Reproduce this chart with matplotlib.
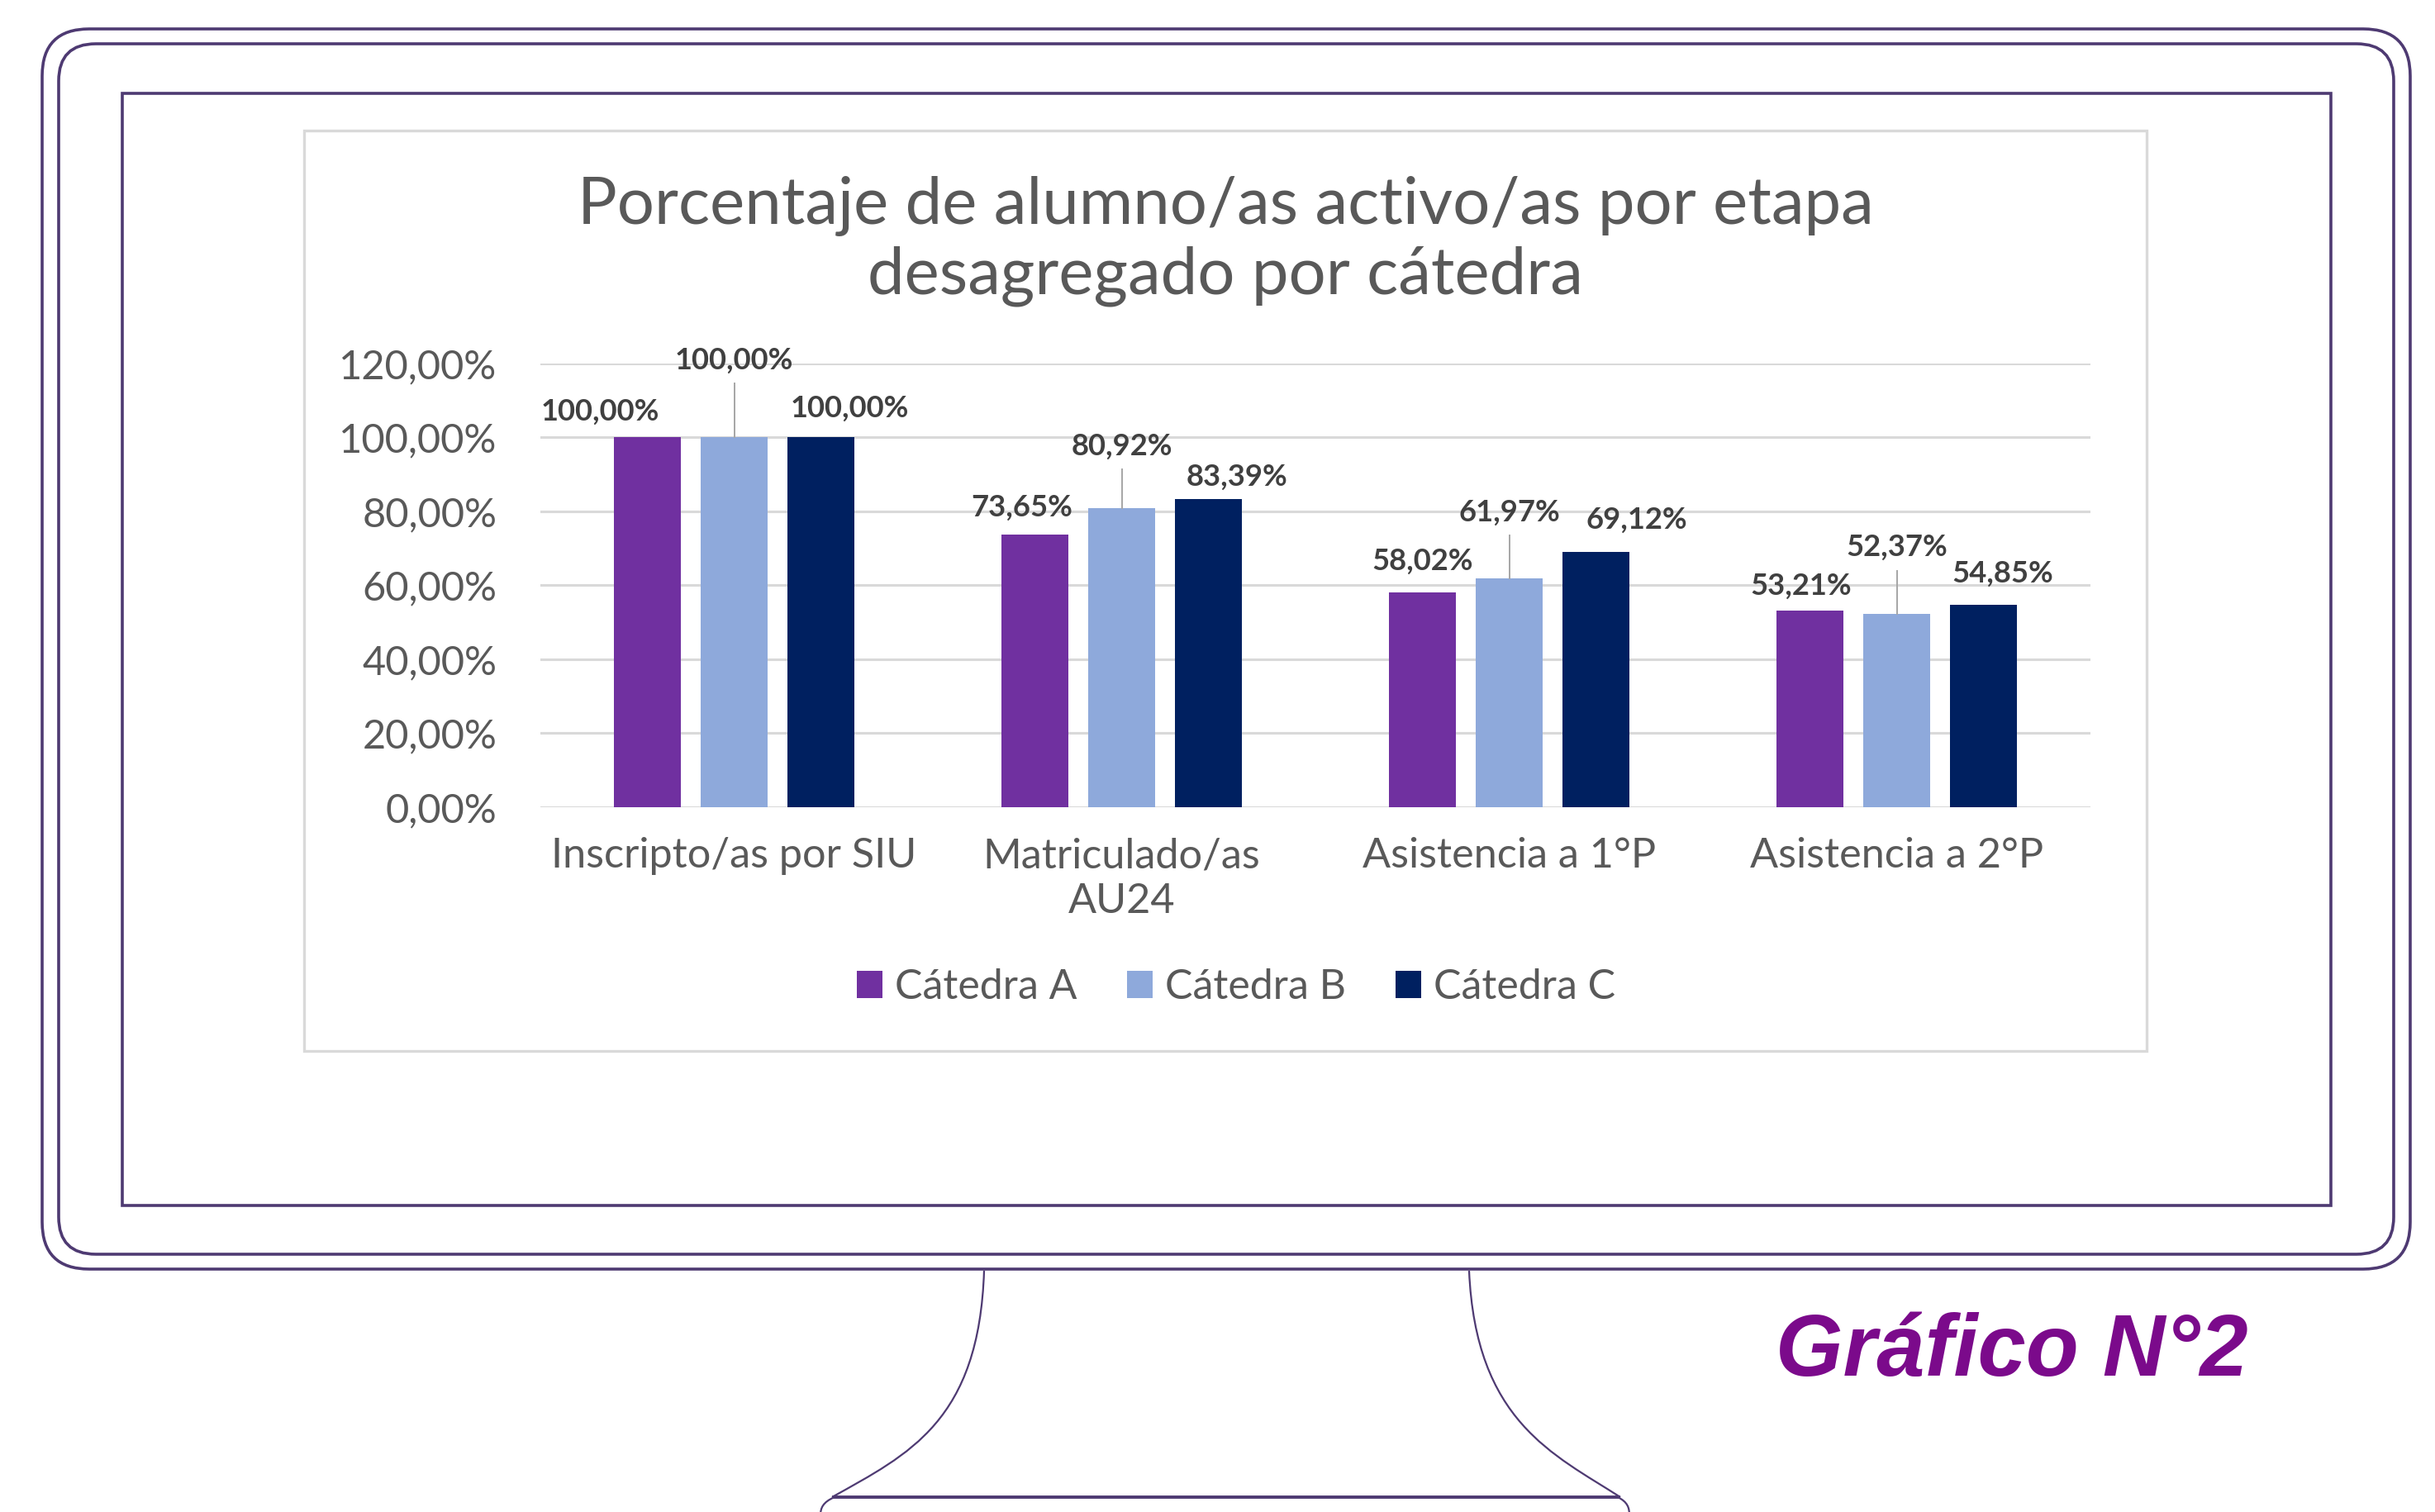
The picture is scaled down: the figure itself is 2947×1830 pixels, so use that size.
import matplotlib
matplotlib.use("Agg")
import matplotlib.pyplot as plt
from matplotlib.patches import FancyBboxPatch, Rectangle, PathPatch, Patch
from matplotlib.path import Path
import numpy as np

# ---------------- data ----------------
categories = ["Inscripto/as por SIU", "Matriculado/as\nAU24", "Asistencia a 1°P", "Asistencia a 2°P"]
series_names = ["Cátedra A", "Cátedra B", "Cátedra C"]
catedra_a = [100.00, 73.65, 58.02, 53.21]
catedra_b = [100.00, 80.92, 61.97, 52.37]
catedra_c = [100.00, 83.39, 69.12, 54.85]
y_ticks = [0, 20, 40, 60, 80, 100, 120]
title_lines = ["Porcentaje de alumno/as activo/as por etapa", "desagregado por cátedra"]
caption = "Gráfico N°2"

# ---------------- style ----------------
colors = ["#7030A0", "#8EA9DB", "#002060"]
text_col = "#595959"
label_col = "#404040"
frame_col = "#4e3a72"
plt.rcParams["font.family"] = ["Lato", "DejaVu Sans"]

# label placement (dx in category units, dy in percentage points above bar top)
label_dx = [[-0.122, -0.034, 0.0, -0.023],
            [0.0, 0.0, 0.0, 0.0],
            [0.075, 0.075, 0.107, 0.05]]
label_dy = [[7.0, 7.5, 8.5, 6.7],
            [20.9, 16.7, 17.8, 17.9],
            [7.9, 6.0, 8.6, 8.4]]

W, H = 2947, 1830
fig = plt.figure(figsize=(W / 100, H / 100), dpi=100)
fig.patch.set_facecolor("white")
renderer = fig.canvas.get_renderer()


def fit(text, target_px, **kw):
    t = fig.text(0, 0, text, fontsize=50, **kw)
    w = t.get_window_extent(renderer=renderer).width
    t.remove()
    return 50 * target_px / w


def px_rect(x0, y0, x1, y1):
    return [x0 / W, 1 - y1 / H, (x1 - x0) / W, (y1 - y0) / H]


# ---------------- monitor drawing ----------------
bg = fig.add_axes([0, 0, 1, 1])
bg.set_xlim(0, W)
bg.set_ylim(H, 0)
bg.axis("off")

bg.add_patch(FancyBboxPatch((51, 35), 2917 - 51, 1536 - 35,
                            boxstyle="round,pad=0,rounding_size=57",
                            fill=False, ec=frame_col, lw=2.6))
bg.add_patch(FancyBboxPatch((71, 53), 2897 - 71, 1518 - 53,
                            boxstyle="round,pad=0,rounding_size=45",
                            fill=False, ec=frame_col, lw=2.6))
bg.add_patch(Rectangle((148, 113), 2821 - 148, 1459 - 113,
                       fill=False, ec=frame_col, lw=2.6))
bg.add_patch(Rectangle((368, 158), 2598 - 368, 1272 - 158,
                       fc="white", ec="#d9d9d9", lw=2.4))

C = Path.CURVE4
stand_left = Path([(1191, 1538), (1185, 1720), (1100, 1760), (1007, 1812)],
                  [Path.MOVETO, C, C, C])
stand_right = Path([(1778, 1538), (1786, 1720), (1880, 1760), (1961, 1812)],
                   [Path.MOVETO, C, C, C])
base_left = Path([(1010, 1812), (996, 1818), (993, 1825), (993, 1834)],
                 [Path.MOVETO, C, C, C])
base_right = Path([(1958, 1812), (1970, 1818), (1972, 1825), (1972, 1834)],
                  [Path.MOVETO, C, C, C])
for p in (stand_left, stand_right, base_left, base_right):
    bg.add_patch(PathPatch(p, fill=False, ec=frame_col, lw=1.6))
bg.plot([1007, 1961], [1812, 1812], color=frame_col, lw=2.8, solid_capstyle="butt")

cap_fs = fit(caption, 572, family="Liberation Sans", fontweight="bold", fontstyle="italic")
bg.text(2149, 1665, caption, fontsize=cap_fs, family="Liberation Sans",
        fontweight="bold", fontstyle="italic", color="#7b0a8b",
        ha="left", va="baseline")

# ---------------- chart ----------------
title_fs = fit(title_lines[0], 1569)
fig.text(1483 / W, 1 - 250 / H, title_lines[0], fontsize=title_fs, color=text_col,
         ha="center", va="center")
fig.text(1483 / W, 1 - 334 / H, title_lines[1], fontsize=title_fs, color=text_col,
         ha="center", va="center")

ax = fig.add_axes(px_rect(654, 440, 2530, 977))
ax.set_facecolor("none")
ax.set_xlim(-0.5, 3.5)
ax.set_ylim(0, 120)

x = np.arange(len(categories))
offsets = [-0.223, 0.0, 0.223]
width = 0.173
series = [catedra_a, catedra_b, catedra_c]
for s, vals in enumerate(series):
    ax.bar(x + offsets[s], vals, width, color=colors[s], zorder=3, label=series_names[s])

lab_fs = fit("100,00%", 144, fontweight="bold")
for s, vals in enumerate(series):
    for i, v in enumerate(vals):
        lx = x[i] + offsets[s] + label_dx[s][i]
        ly = v + label_dy[s][i]
        ax.text(lx, ly, f"{v:.2f}%".replace(".", ","), fontsize=lab_fs,
                fontweight="bold", color=label_col, ha="center", va="center",
                zorder=5, clip_on=False)
        if s == 1:
            ax.plot([x[i] + offsets[s]] * 2, [v, ly - 6.3], color="#a6a6a6",
                    lw=1.4, zorder=4, clip_on=False)

tick_fs = fit("120,00%", 192)
cat_fs = fit("Asistencia a 1°P", 355)
ax.set_yticks(y_ticks)
ax.set_yticklabels([f"{v:.2f}%".replace(".", ",") for v in y_ticks])
ax.set_xticks(x)
ax.set_xticklabels(categories)
ax.tick_params(axis="y", length=0, pad=38, labelsize=tick_fs, labelcolor=text_col)
ax.tick_params(axis="x", length=0, pad=26, labelsize=cat_fs, labelcolor=text_col)
for lbl in ax.get_xticklabels():
    lbl.set_linespacing(1.25)
ax.grid(axis="y", color="#d9d9d9", lw=2.2, zorder=0)
ax.set_axisbelow(True)
for sp in ax.spines.values():
    sp.set_visible(False)

leg_fs = fit("Cátedra A", 220)
handles = [Patch(facecolor=c, edgecolor="none") for c in colors]
leg = fig.legend(handles, series_names, loc="center",
                 bbox_to_anchor=(1496 / W, 1 - 1195 / H), ncol=3, frameon=False,
                 fontsize=leg_fs, handlelength=0.62, handleheight=0.62,
                 handletextpad=0.3, columnspacing=1.2)
for t in leg.get_texts():
    t.set_color(text_col)

fig.savefig("out.png", dpi=100, facecolor="white")
